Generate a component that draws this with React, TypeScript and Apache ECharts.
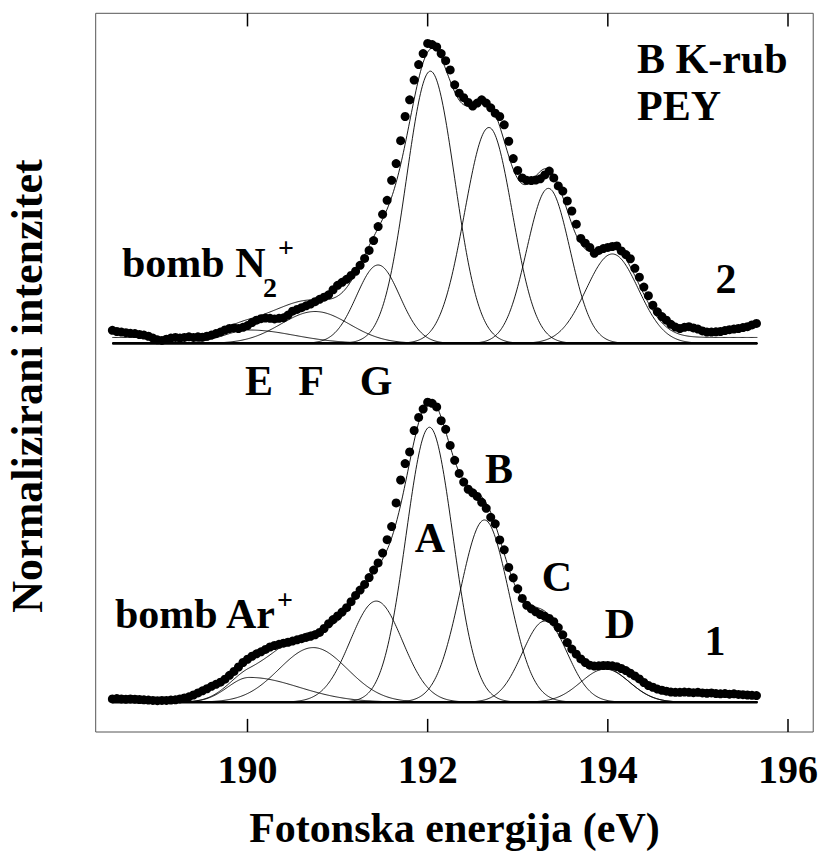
import React, { useEffect, useRef } from "react";
import * as echarts from "echarts";

// ---- axis ----
const xMin = 188.315;
const xMax = 196.28;
const tickValues = [190, 192, 194, 196];
const yMin = -0.1;
const yMax = 2.31;
const tickLength = 0.044; // in intensity units (about 13 px)
const upperOffset = 1.203; // vertical shift of spectrum 2
const baselineRange = [188.5, 195.66];

// ---- measured points (photon energy grid) ----
const energyStart = 188.5;
const energyStep = 0.05;

// spectrum 2: bomb N2+ (normalized intensity x1000)
const upperDots = [
  44, 40, 38, 36, 34, 33, 30, 28, 24, 18,
  12, 10, 14, 18, 20, 18, 20, 22, 20, 22,
  21, 24, 28, 33, 38, 45, 50, 52, 50, 54,
  60, 70, 78, 83, 85, 84, 82, 84, 86, 95,
  108, 114, 120, 126, 132, 140, 148, 155, 163, 180,
  195, 205, 215, 228, 242, 262, 285, 312, 345, 392,
  433, 480, 547, 603, 680, 761, 817, 883, 935, 972,
  1006, 1002, 994, 972, 948, 917, 867, 839, 824, 808,
  796, 806, 817, 806, 790, 772, 761, 733, 678, 620,
  580, 555, 547, 546, 548, 552, 565, 578, 555, 528,
  511, 478, 444, 400, 352, 336, 322, 302, 312, 318,
  322, 325, 327, 310, 298, 284, 252, 222, 189, 160,
  128, 106, 90, 78, 64, 55, 50, 54, 56, 52,
  48, 42, 38, 38, 39, 40, 43, 46, 48, 50,
  53, 56, 62, 67,
];

// spectrum 1: bomb Ar+ (normalized intensity x1000)
const lowerDots = [
  11, 12, 11, 10, 11, 10, 9, 8, 7, 6,
  5, 6, 6, 7, 8, 11, 14, 18, 24, 31,
  38, 45, 53, 60, 67, 77, 90, 103, 118, 133,
  144, 154, 162, 169, 177, 185, 190, 194, 198, 201,
  205, 209, 213, 217, 221, 226, 234, 247, 263, 277,
  289, 302, 317, 337, 358, 376, 395, 418, 443, 467,
  500, 545, 589, 668, 745, 800, 839, 911, 955, 983,
  1006, 1002, 990, 944, 915, 861, 811, 767, 738, 714,
  702, 690, 670, 650, 620, 598, 544, 511, 452, 417,
  380, 348, 325, 313, 303, 294, 288, 281, 270, 250,
  226, 200, 178, 161, 145, 133, 124, 121, 122, 123,
  123, 122, 119, 113, 106, 97, 88, 78, 66, 56,
  50, 44, 40, 37, 34, 33, 33, 34, 33, 32,
  33, 31, 30, 31, 29, 28, 29, 27, 28, 26,
  25, 24, 23, 22,
];

// ---- fitted components (peak position, height, left/right widths) ----
const componentNames = ["E", "F", "G", "A", "B", "C", "D"];
const upperCenters = [190.02, 190.75, 191.45, 192.03, 192.68, 193.34, 194.05];
const upperHeights = [0.045, 0.107, 0.263, 0.913, 0.724, 0.52, 0.3];
const upperSigmaL = [0.28, 0.38, 0.24, 0.265, 0.27, 0.24, 0.29];
const upperSigmaR = [0.5, 0.38, 0.24, 0.27, 0.26, 0.24, 0.29];
const upperBackground = 0.02;

const lowerCenters = [190.02, 190.73, 191.43, 192.02, 192.63, 193.3, 193.97];
const lowerHeights = [0.083, 0.183, 0.339, 0.922, 0.611, 0.272, 0.111];
const lowerSigmaL = [0.24, 0.38, 0.29, 0.26, 0.27, 0.25, 0.27];
const lowerSigmaR = [0.55, 0.38, 0.29, 0.26, 0.27, 0.25, 0.27];
const lowerBackground = 0;

const fitStep = 0.01;

const FONT = "'Liberation Serif', 'Times New Roman', serif";

function peak(x: number, c: number, h: number, sl: number, sr: number) {
  const s = x < c ? sl : sr;
  return h * Math.exp(-((x - c) * (x - c)) / (2 * s * s));
}

function buildSeries() {
  const series: any[] = [];

  const fitX: number[] = [];
  const n = Math.round((baselineRange[1] - baselineRange[0]) / fitStep);
  for (let i = 0; i <= n; i++) fitX.push(baselineRange[0] + i * fitStep);

  const spectra = [
    { off: 0, dots: lowerDots, c: lowerCenters, h: lowerHeights, sl: lowerSigmaL, sr: lowerSigmaR, bg: lowerBackground, name: "1" },
    { off: upperOffset, dots: upperDots, c: upperCenters, h: upperHeights, sl: upperSigmaL, sr: upperSigmaR, bg: upperBackground, name: "2" },
  ];

  spectra.forEach((sp) => {
    series.push({
      type: "line",
      name: "baseline " + sp.name,
      data: [[baselineRange[0], sp.off], [baselineRange[1], sp.off]],
      symbol: "none",
      lineStyle: { color: "#000", width: 2.6 },
      z: 2,
    });
    componentNames.forEach((cn, k) => {
      series.push({
        type: "line",
        name: cn + sp.name,
        data: fitX.map((x) => [x, sp.off + peak(x, sp.c[k], sp.h[k], sp.sl[k], sp.sr[k])]),
        symbol: "none",
        lineStyle: { color: "#000", width: 0.9 },
        z: 3,
      });
    });
    series.push({
      type: "line",
      name: "fit " + sp.name,
      data: fitX.map((x) => {
        let s = sp.bg;
        for (let k = 0; k < sp.c.length; k++) s += peak(x, sp.c[k], sp.h[k], sp.sl[k], sp.sr[k]);
        return [x, sp.off + s];
      }),
      symbol: "none",
      lineStyle: { color: "#000", width: 0.9 },
      z: 4,
    });
    series.push({
      type: "scatter",
      name: "data " + sp.name,
      data: sp.dots.map((v, i) => [energyStart + i * energyStep, sp.off + v / 1000]),
      symbol: "circle",
      symbolSize: 9,
      itemStyle: { color: "#000", opacity: 1 },
      z: 5,
    });
  });
  return series;
}

function txt(text: string, x: number, y: number, size: number, align = "left", extra: any = {}) {
  return {
    type: "text",
    x,
    y,
    silent: true,
    z: 10,
    ...extra,
    style: {
      text,
      font: `bold ${size}px ${FONT}`,
      fill: "#000",
      textAlign: align,
      textVerticalAlign: "middle",
    },
  };
}

export default function App() {
  const ref = useRef<HTMLDivElement>(null);
  useEffect(() => {
    if (!ref.current) return;
    const chart = echarts.init(ref.current, undefined, { renderer: "svg" });
    const texts = [
      txt("Normalizirani intenzitet", 27, 386, 44, "center", { rotation: Math.PI / 2 }),
      txt("B K-rub", 637, 59, 42),
      txt("PEY", 637, 106, 42),
      txt("2", 726, 279, 42, "center"),
      txt("bomb N", 122, 263, 42),
      txt("2", 263, 287, 28),
      txt("+", 278, 247, 28),
      txt("E", 259, 381, 42, "center"),
      txt("F", 311, 381, 42, "center"),
      txt("G", 376, 381, 42, "center"),
      txt("bomb Ar", 115, 614, 42),
      txt("+", 277, 599, 28),
      txt("A", 430, 538, 42, "center"),
      txt("B", 499, 469, 42, "center"),
      txt("C", 557, 577, 42, "center"),
      txt("D", 620, 624, 42, "center"),
      txt("1", 715, 641, 42, "center"),
    ];
    chart.setOption({
      animation: false,
      backgroundColor: "#fff",
      grid: {
        left: 95.7,
        right: 6.7,
        top: 13.3,
        bottom: 117.3,
        show: true,
        borderColor: "#555",
        borderWidth: 1,
      },
      xAxis: [
        {
          type: "value",
          min: xMin,
          max: xMax,
          position: "bottom",
          axisLine: { show: false },
          splitLine: { show: false },
          axisTick: { show: false },
          axisLabel: {
            show: true,
            customValues: tickValues,
            margin: 17,
            fontSize: 40,
            fontWeight: "bold",
            fontFamily: FONT,
            color: "#000",
          },
          name: "Fotonska energija (eV)",
          nameLocation: "middle",
          nameGap: 75,
          nameTextStyle: { fontSize: 42, fontWeight: "bold", fontFamily: FONT, color: "#000" },
        },
      ],
      yAxis: {
        type: "value",
        min: yMin,
        max: yMax,
        show: false,
        splitLine: { show: false },
      },
      series: buildSeries(),
      graphic: texts,
    });

    // inside ticks on bottom and top edges, placed through the axis scale
    const tickLines: any[] = [];
    tickValues.forEach((v) => {
      const b0 = chart.convertToPixel({ gridIndex: 0 }, [v, yMin]) as number[];
      const b1 = chart.convertToPixel({ gridIndex: 0 }, [v, yMin + tickLength]) as number[];
      const t0 = chart.convertToPixel({ gridIndex: 0 }, [v, yMax]) as number[];
      const t1 = chart.convertToPixel({ gridIndex: 0 }, [v, yMax - tickLength]) as number[];
      const st = { stroke: "#000", lineWidth: 1.5 };
      tickLines.push({ type: "line", silent: true, z: 9, shape: { x1: b0[0], y1: b0[1], x2: b1[0], y2: b1[1] }, style: st });
      tickLines.push({ type: "line", silent: true, z: 9, shape: { x1: t0[0], y1: t0[1], x2: t1[0], y2: t1[1] }, style: st });
    });
    chart.setOption({ graphic: [...texts, ...tickLines] });

    return () => chart.dispose();
  }, []);
  return (
    <div
      ref={ref}
      style={{ position: "fixed", left: 0, top: 0, width: 821, height: 854, background: "#fff" }}
    />
  );
}
